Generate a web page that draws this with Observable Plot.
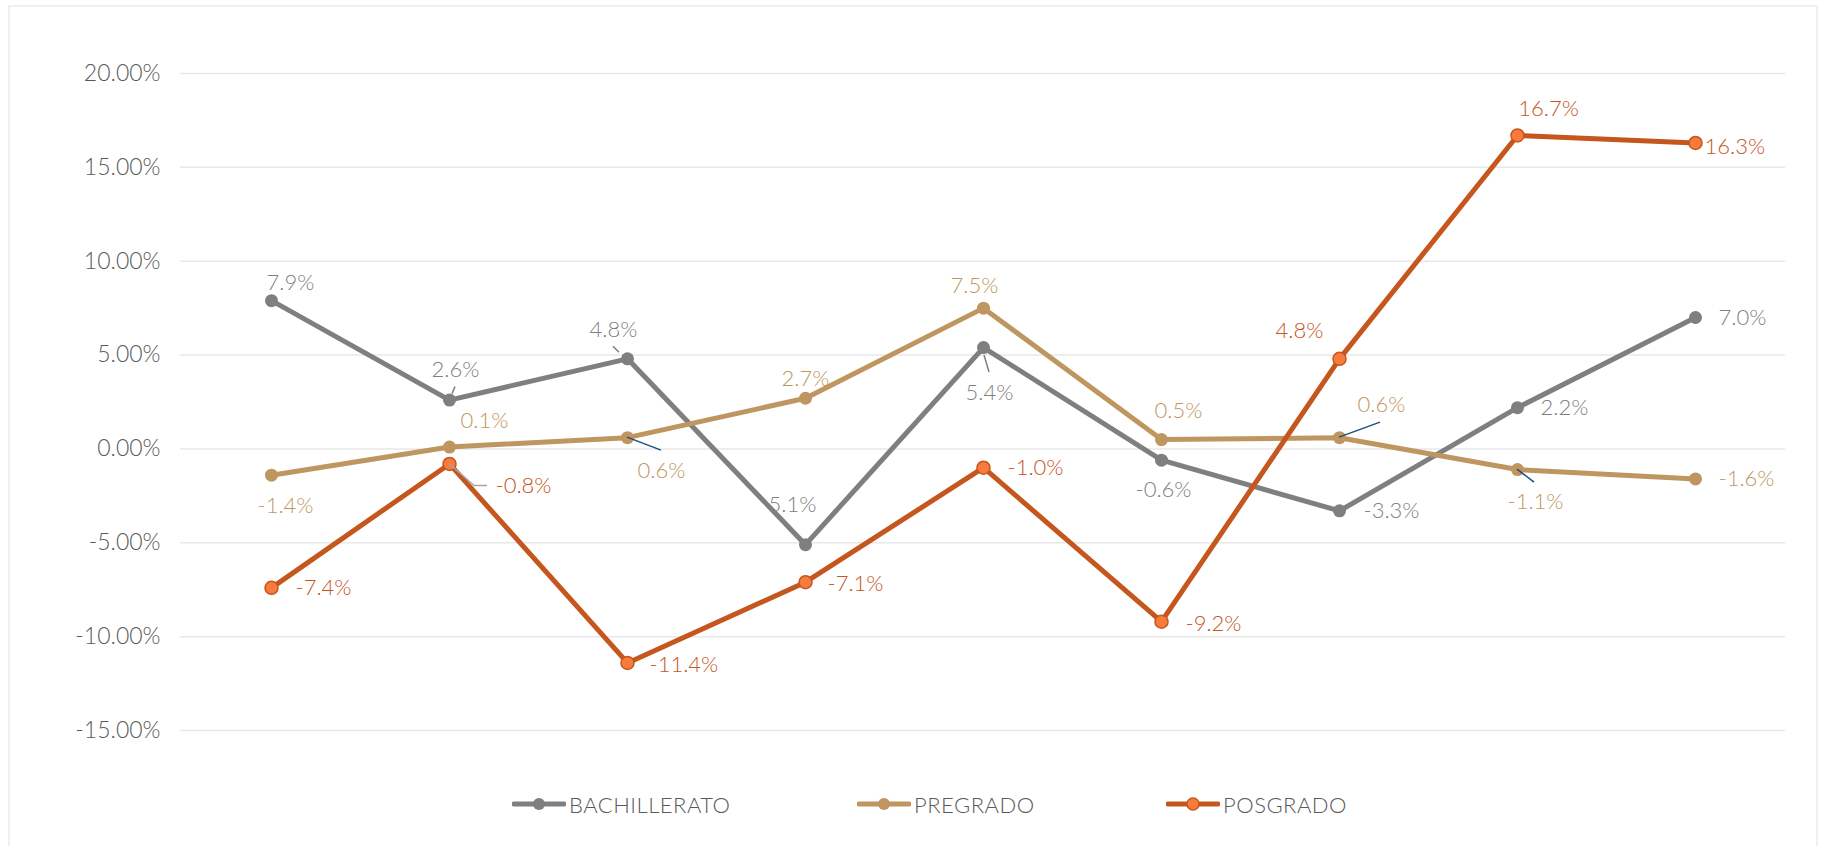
<!DOCTYPE html>
<html><head><meta charset="utf-8">
<script src="https://cdn.jsdelivr.net/npm/d3@7"></script>
<script src="https://cdn.jsdelivr.net/npm/@observablehq/plot@0.6"></script>
<style>
body{margin:0;background:#fff;font-family:Lato,"Noto Sans",sans-serif;}
#frame{position:absolute;left:8px;top:5px;width:1810px;height:860px;border:2px solid #efefef;box-sizing:border-box;}
#chart{position:absolute;left:0;top:0;}
#legend{position:absolute;top:790px;left:0;width:1824px;height:28px;}
.item{position:absolute;top:0;height:28px;display:flex;align-items:center;font-size:22px;color:#595959;font-weight:300;letter-spacing:0.5px;}
.item svg{margin-right:3px;}
svg text{font-weight:300;}
</style></head><body>
<div id="frame"></div><div id="chart"></div><div id="legend"></div>
<script>
// ---- data ----
const categories = [1, 2, 3, 4, 5, 6, 7, 8, 9];
const seriesNames = ["BACHILLERATO", "PREGRADO", "POSGRADO"];
const bachillerato = [7.9, 2.6, 4.8, -5.1, 5.4, -0.6, -3.3, 2.2, 7.0];
const pregrado = [-1.4, 0.1, 0.6, 2.7, 7.5, 0.5, 0.6, -1.1, -1.6];
const posgrado = [-7.4, -0.8, -11.4, -7.1, -1.0, -9.2, 4.8, 16.7, 16.3];
const bachilleratoLabels = ["7.9%", "2.6%", "4.8%", "5.1%", "5.4%", "-0.6%", "-3.3%", "2.2%", "7.0%"];
const pregradoLabels = ["-1.4%", "0.1%", "0.6%", "2.7%", "7.5%", "0.5%", "0.6%", "-1.1%", "-1.6%"];
const posgradoLabels = ["-7.4%", "-0.8%", "-11.4%", "-7.1%", "-1.0%", "-9.2%", "4.8%", "16.7%", "16.3%"];
const yTicks = [-15, -10, -5, 0, 5, 10, 15, 20];

// ---- styling / label placement ----
const colors = {BACHILLERATO: "#7f7f7f", PREGRADO: "#bf9660", POSGRADO: "#c4561e"};
const posDotFill = "#f77b3c";
// [dx, dy, anchor] per point
const placement = {
  BACHILLERATO: [[19,-18,"middle"],[6,-30,"middle"],[-14,-29,"middle"],[-13,-40,"middle"],[6,45,"middle"],[2,30,"middle"],[24,0,"start"],[23,0,"start"],[23,0,"start"]],
  PREGRADO: [[14,31,"middle"],[35,-26,"middle"],[34,33,"middle"],[0,-19,"middle"],[-9,-22,"middle"],[17,-29,"middle"],[42,-33,"middle"],[18,32,"middle"],[23,0,"start"]],
  POSGRADO: [[24,0,"start"],[46,22,"start"],[22,2,"start"],[22,2,"start"],[24,0,"start"],[24,2,"start"],[-40,-28,"middle"],[31,-26,"middle"],[9,4,"start"]]
};
const leaderLines = [
  {series: "BACHILLERATO", i: 1, color: "#7f7f7f", pts: [[3,-6],[6,-13]]},
  {series: "BACHILLERATO", i: 2, color: "#7f7f7f", pts: [[-8,-6],[-14,-12]]},
  {series: "BACHILLERATO", i: 4, color: "#7f7f7f", pts: [[1,8],[6,25]]},
  {series: "PREGRADO", i: 2, color: "#1f4e79", pts: [[0,0],[34,13]]},
  {series: "PREGRADO", i: 6, color: "#1f4e79", pts: [[0,0],[41,-15]]},
  {series: "PREGRADO", i: 7, color: "#1f4e79", pts: [[0,0],[17,13]]},
  {series: "POSGRADO", i: 1, color: "#a6a6a6", pts: [[0,0],[25,22],[38,22]]}
];

const valuesBy = {BACHILLERATO: bachillerato, PREGRADO: pregrado, POSGRADO: posgrado};
const labelsBy = {BACHILLERATO: bachilleratoLabels, PREGRADO: pregradoLabels, POSGRADO: posgradoLabels};

const rows = seriesNames.flatMap(s => categories.map((c, i) => ({series: s, cat: c, value: valuesBy[s][i], label: labelsBy[s][i], i})));

function leaders(index, scales) {
  const g = d3.create("svg:g");
  for (const L of leaderLines) {
    const x0 = scales.x(categories[L.i]);
    const y0 = scales.y(valuesBy[L.series][L.i]);
    g.append("polyline")
      .attr("points", L.pts.map(([dx, dy]) => `${x0 + dx},${y0 + dy}`).join(" "))
      .attr("fill", "none").attr("stroke", L.color).attr("stroke-width", 1.5);
  }
  return g.node();
}

const labelMarks = rows.map(r => {
  const [dx, dy, anchor] = placement[r.series][r.i];
  return Plot.text([r], {x: "cat", y: "value", text: "label", dx, dy, textAnchor: anchor,
    fill: colors[r.series], fontSize: 22, fontFamily: "Lato, 'Noto Sans', sans-serif"});
});

const chart = Plot.plot({
  width: 1824,
  height: 770,
  marginLeft: 180,
  marginRight: 39,
  marginTop: 73,
  marginBottom: 40,
  x: {type: "point", domain: categories, padding: 0.5, axis: null},
  y: {domain: [-15, 20], ticks: yTicks, tickFormat: d => d.toFixed(2) + "%", label: null},
  style: {fontFamily: "Lato, 'Noto Sans', sans-serif", background: "transparent"},
  marks: [
    Plot.gridY(yTicks, {stroke: "#e8e8e8", strokeOpacity: 1, strokeWidth: 1.5}),
    Plot.axisY(yTicks, {tickSize: 0, tickPadding: 20, fontSize: 23, fill: "#595959", tickFormat: d => d.toFixed(2) + "%", label: null, style: "letter-spacing:2.5px"}),
    ...seriesNames.map(s => Plot.line(rows.filter(r => r.series === s), {x: "cat", y: "value", stroke: colors[s], strokeWidth: 5, strokeLinejoin: "round", strokeLinecap: "round"})),
    ...seriesNames.map(s => Plot.dot(rows.filter(r => r.series === s), {x: "cat", y: "value", r: 6.5,
      fill: s === "POSGRADO" ? posDotFill : colors[s], stroke: colors[s], strokeWidth: s === "POSGRADO" ? 1.5 : 0})),
    leaders,
    ...labelMarks
  ]
});
document.getElementById("chart").appendChild(chart);

// ---- legend ----
const legendLeft = {BACHILLERATO: 512, PREGRADO: 857, POSGRADO: 1166};
const legend = d3.select("#legend");
for (const s of seriesNames) {
  const item = legend.append("div").attr("class", "item").style("left", legendLeft[s] + "px");
  const svg = item.append("svg").attr("width", 54).attr("height", 16);
  svg.append("line").attr("x1", 2).attr("x2", 52).attr("y1", 8).attr("y2", 8)
    .attr("stroke", colors[s]).attr("stroke-width", 5).attr("stroke-linecap", "round");
  svg.append("circle").attr("cx", 27).attr("cy", 8).attr("r", 6)
    .attr("fill", s === "POSGRADO" ? posDotFill : colors[s])
    .attr("stroke", colors[s]).attr("stroke-width", s === "POSGRADO" ? 1.5 : 0);
  item.append("span").text(s);
}
</script>
</body></html>
